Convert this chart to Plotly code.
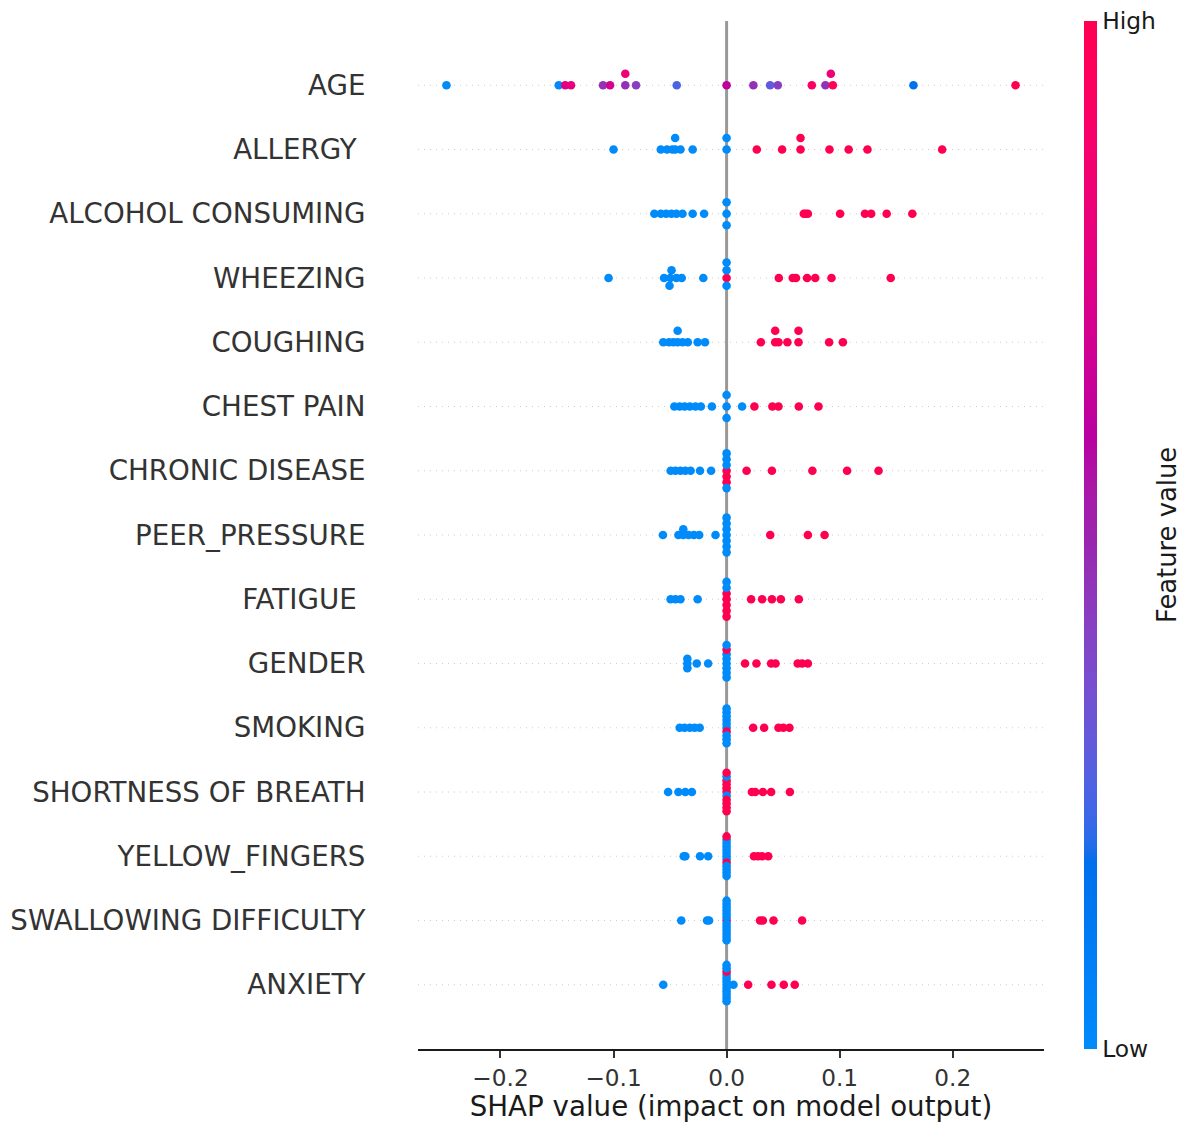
import numpy as np
import plotly.graph_objects as go

# ---------------- data (top row first) ----------------
features = ["AGE", "ALLERGY ", "ALCOHOL CONSUMING", "WHEEZING", "COUGHING", "CHEST PAIN",
            "CHRONIC DISEASE", "PEER_PRESSURE", "FATIGUE ", "GENDER", "SMOKING",
            "SHORTNESS OF BREATH", "YELLOW_FINGERS", "SWALLOWING DIFFICULTY", "ANXIETY"]

age_shap = [-0.2478, -0.1485, -0.1427, -0.1376, -0.1093, -0.1031, -0.0896, -0.0896, -0.0801, -0.0441,
            0.0000, 0.0237, 0.0385, 0.0453, 0.0754, 0.0874, 0.0940, 0.0922, 0.1653, 0.2556]
age_value = [48, 50, 69, 69, 61, 67, 61, 70, 60, 56, 65, 61, 57, 60, 72, 61, 74, 70, 54, 77]

allergy_shap = [-0.1000, -0.0582, -0.0527, -0.0480, -0.0455, -0.0455, -0.0408, -0.0300, 0.0, 0.0,
                0.0267, 0.0491, 0.0654, 0.0654, 0.0910, 0.1080, 0.1246, 0.1907]
allergy_value = [0] * 10 + [1] * 8

alcohol_shap = [-0.0639, -0.0582, -0.0535, -0.0488, -0.0444, -0.0390, -0.0300, -0.0199, 0.0, 0.0, 0.0,
                0.0683, 0.0700, 0.0719, 0.1004, 0.1224, 0.1279, 0.1416, 0.1643]
alcohol_value = [0] * 11 + [1] * 8

wheezing_shap = [-0.1044, -0.0553, -0.0498, -0.0487, -0.0505, -0.0444, -0.0397, -0.0206, 0.0, 0.0, 0.0, 0.0,
                 0.0462, 0.0585, 0.0614, 0.0712, 0.0784, 0.0928, 0.1452]
wheezing_value = [0] * 8 + [1, 0, 0, 0] + [1] * 7

coughing_shap = [-0.0560, -0.0509, -0.0470, -0.0433, -0.0433, -0.0390, -0.0343, -0.0256, -0.0191,
                 0.0303, 0.0430, 0.0430, 0.0459, 0.0538, 0.0636, 0.0636, 0.0907, 0.1029]
coughing_value = [0] * 9 + [1] * 9

chest_shap = [-0.0462, -0.0415, -0.0372, -0.0325, -0.0275, -0.0228, -0.0130, 0.0, 0.0, 0.0, 0.0137,
              0.0246, 0.0405, 0.0459, 0.0639, 0.0813]
chest_value = [0] * 11 + [1] * 5

chronic_shap = [-0.0495, -0.0452, -0.0408, -0.0365, -0.0318, -0.0235, -0.0137, 0, 0, 0, 0, 0, 0, 0,
                0.0177, 0.0401, 0.0759, 0.1066, 0.1344]
chronic_value = [0] * 7 + [1, 0, 1, 0, 1, 0, 0] + [1] * 5

peer_shap = [-0.0563, -0.0426, -0.0383, -0.0383, -0.0336, -0.0289, -0.0242, -0.0098, 0, 0, 0, 0, 0, 0, 0,
             0.0386, 0.0719, 0.0867]
peer_value = [0] * 15 + [1] * 3

fatigue_shap = [-0.0495, -0.0452, -0.0408, -0.0256, 0, 0, 0, 0, 0, 0, 0,
                0.0217, 0.0314, 0.0401, 0.0480, 0.0639]
fatigue_value = [0] * 4 + [1, 1, 1, 0, 1, 0, 1] + [1] * 5

gender_shap = [-0.0347, -0.0347, -0.0347, -0.0264, -0.0163, 0, 0, 0, 0, 0, 0, 0, 0,
               0.0163, 0.0264, 0.0394, 0.0433, 0.0629, 0.0668, 0.0719]
gender_value = [0] * 5 + [0, 0, 0, 0, 0, 1, 0, 0] + [1] * 7

smoking_shap = [-0.0415, -0.0372, -0.0325, -0.0282, -0.0238, 0, 0, 0, 0, 0, 0, 0, 0, 0, 0,
                0.0235, 0.0332, 0.0459, 0.0502, 0.0556]
smoking_value = [0] * 5 + [0, 0, 1, 0, 0, 0, 0, 0, 0, 0] + [1] * 5

breath_shap = [-0.0517, -0.0426, -0.0365, -0.0307, 0, 0, 0, 0, 0, 0, 0, 0, 0, 0, 0,
               0.0224, 0.0253, 0.0321, 0.0394, 0.0560]
breath_value = [0] * 4 + [1, 1, 0, 1, 1, 1, 1, 0, 1, 1, 1] + [1] * 5

yellow_shap = [-0.0379, -0.0365, -0.0235, -0.0163, 0, 0, 0, 0, 0, 0, 0, 0, 0, 0, 0, 0, 0,
               0.0242, 0.0278, 0.0314, 0.0368]
yellow_value = [0] * 4 + [0, 0, 0, 0, 1, 0, 0, 0, 0, 0, 0, 1, 0] + [1] * 4

swallow_shap = [-0.0401, -0.0173, -0.0155, 0, 0, 0, 0, 0, 0, 0, 0, 0, 0, 0, 0, 0,
                0.0296, 0.0321, 0.0415, 0.0668]
swallow_value = [0] * 3 + [1] + [0] * 12 + [1] * 4

anxiety_shap = [-0.0560, 0, 0, 0, 0, 0, 0, 0, 0, 0, 0, 0, 0, 0.0061, 0.0191, 0.0397, 0.0506, 0.0603]
anxiety_value = [0] + [0, 0, 0, 0, 0, 0, 0, 1, 0, 0, 0, 0] + [0] + [1] * 4

shap_rows = [age_shap, allergy_shap, alcohol_shap, wheezing_shap, coughing_shap, chest_shap,
             chronic_shap, peer_shap, fatigue_shap, gender_shap, smoking_shap, breath_shap,
             yellow_shap, swallow_shap, anxiety_shap]
value_rows = [age_value, allergy_value, alcohol_value, wheezing_value, coughing_value, chest_value,
              chronic_value, peer_value, fatigue_value, gender_value, smoking_value, breath_value,
              yellow_value, swallow_value, anxiety_value]

x_label = "SHAP value (impact on model output)"
cbar_label = "Feature value"
cbar_ticks = ["Low", "High"]

# ---------------- SHAP red_blue colormap (LCH interpolation) ----------------
def lch_to_rgb(l, c, h):
    a, b = c * np.cos(h), c * np.sin(h)
    fy = (l + 16) / 116.0
    fx = fy + a / 500.0
    fz = fy - b / 200.0

    def finv(t):
        return t ** 3 if t > 0.2068966 else (t - 16 / 116.0) / 7.787

    xyz = np.array([0.95047 * finv(fx), 1.0 * finv(fy), 1.08883 * finv(fz)])
    M = np.array([[3.24048134, -1.53715152, -0.49853633],
                  [-0.96925495, 1.87599, 0.04155593],
                  [0.05564664, -0.20404134, 1.05731107]])
    rgb = M @ xyz
    rgb = np.where(rgb > 0.0031308, 1.055 * np.power(np.clip(rgb, 0, None), 1 / 2.4) - 0.055, 12.92 * rgb)
    return np.clip(rgb, 0, 1)

blue_lch = [54.0, 70.0, 4.6588]
red_lch = [54.0, 90.0, 0.35470565 + 2 * np.pi]
l_mid = 40.0
nsteps = 100
l_vals = list(np.linspace(blue_lch[0], l_mid, nsteps // 2)) + list(np.linspace(l_mid, red_lch[0], nsteps // 2))
c_vals = np.linspace(blue_lch[1], red_lch[1], nsteps)
h_vals = np.linspace(blue_lch[2], red_lch[2], nsteps)
colorscale = []
for p, l, c, h in zip(np.linspace(0, 1, nsteps), l_vals, c_vals, h_vals):
    r, g, b = lch_to_rgb(l, c, h)
    colorscale.append([float(p), f"rgb({int(round(r*255))},{int(round(g*255))},{int(round(b*255))})"])

# ---------------- beeswarm layout (SHAP algorithm) ----------------
row_height = 0.4

def swarm(shaps):
    shaps = np.asarray(shaps, dtype=float)
    nbins = 100
    quant = np.round(nbins * (shaps - shaps.min()) / (shaps.max() - shaps.min() + 1e-8))
    order = np.argsort(quant, kind="stable")
    layer, last_bin = 0, -1
    ys = np.zeros(len(shaps))
    for ind in order:
        if quant[ind] != last_bin:
            layer = 0
        ys[ind] = np.ceil(layer / 2) * ((layer % 2) * 2 - 1)
        layer += 1
        last_bin = quant[ind]
    ys *= 0.9 * (row_height / np.max(ys + 1))
    return ys

n = len(features)
fig = go.Figure()
all_x = np.concatenate([np.asarray(s, float) for s in shap_rows])
for i in range(n - 1, -1, -1):
    pos = n - 1 - i
    s = np.asarray(shap_rows[i], float)
    v = np.asarray(value_rows[i], float)
    vmin, vmax = np.nanpercentile(v, 5), np.nanpercentile(v, 95)
    if vmax <= vmin:
        vmin, vmax = v.min(), v.max()
    cv = np.clip((v - vmin) / (vmax - vmin), 0, 1)
    ys = swarm(s)
    fig.add_trace(go.Scatter(
        x=s, y=pos + ys, mode="markers",
        marker=dict(size=8.6, color=cv, coloraxis="coloraxis", line=dict(width=0), opacity=1),
        showlegend=False, hoverinfo="x+name", name=features[i].strip()))

# axis limits as matplotlib autoscale (5% margins)
span = all_x.max() - all_x.min()
xr = [all_x.min() - 0.05 * span, all_x.max() + 0.05 * span]

shapes = []
for pos in range(n):
    shapes.append(dict(type="line", xref="paper", x0=0, x1=1, yref="y", y0=pos, y1=pos,
                       line=dict(color="#cccccc", width=1, dash="1px,5px"), layer="below"))
shapes.append(dict(type="line", xref="x", x0=0, x1=0, yref="paper", y0=0, y1=1,
                   line=dict(color="#999999", width=3), layer="below"))

ticktext = [f.rstrip() + "\u00a0" if f.endswith(" ") else f for f in features][::-1]

L, R, T, B = 418, 141, 21, 74
W, H = 1185, 1123
pw = W - L - R

fig.update_layout(
    width=W, height=H,
    margin=dict(l=L, r=R, t=T, b=B, autoexpand=False),
    plot_bgcolor="white", paper_bgcolor="white",
    font=dict(family="DejaVu Sans", color="#333333"),
    shapes=shapes,
    xaxis=dict(range=xr, tick0=0, dtick=0.1, tickformat=".1f", showgrid=False, zeroline=False,
               showline=True, linecolor="#1a1a1a", linewidth=1.6,
               ticks="outside", ticklen=7, tickwidth=1.6, tickcolor="#333333",
               tickfont=dict(size=23.2, color="#333333"),
               title=dict(text=x_label, font=dict(size=27.7, color="#1a1a1a"), standoff=8)),
    yaxis=dict(range=[-1, n], tickmode="array", tickvals=list(range(n)), ticktext=ticktext,
               showgrid=False, zeroline=False, showline=False,
               ticks="outside", ticklen=46, tickcolor="rgba(0,0,0,0)",
               tickfont=dict(size=27.7, color="#333333")),
    coloraxis=dict(colorscale=colorscale, cmin=0, cmax=1,
                   colorbar=dict(x=(1084 - L) / pw, xanchor="left", xpad=0, y=0.5, yanchor="middle",
                                 ypad=0, len=1, lenmode="fraction", thickness=13, outlinewidth=0,
                                 tickmode="array", tickvals=[0, 1], ticktext=cbar_ticks,
                                 ticks="",
                                 tickfont=dict(size=23.4, color="#1a1a1a"))),
    annotations=[dict(text=cbar_label, xref="paper", yref="paper", x=(1167 - L) / pw, y=0.5,
                      xanchor="center", yanchor="middle", textangle=-90, showarrow=False,
                      font=dict(size=25.8, color="#1a1a1a"))],
)

fig.write_html("out.html")
